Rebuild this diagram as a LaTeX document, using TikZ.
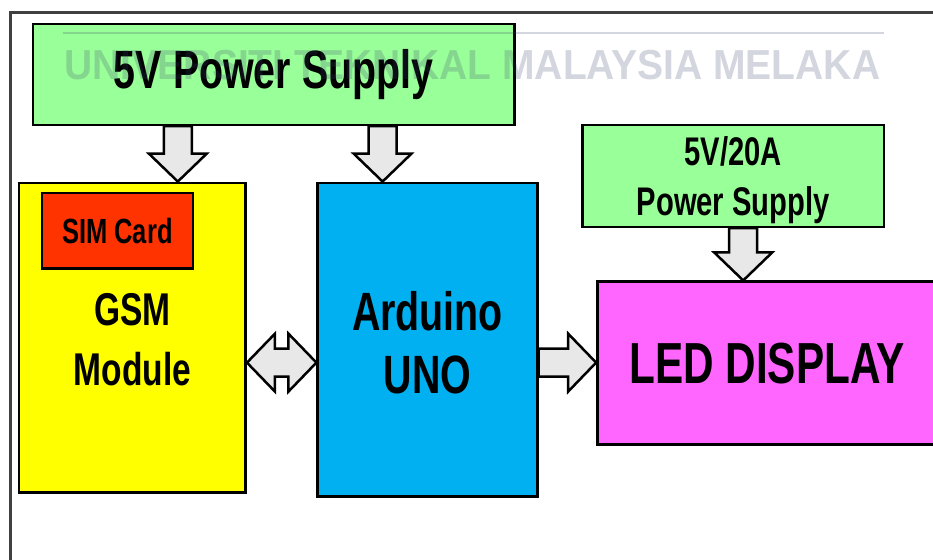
\documentclass[tikz,border=0pt]{standalone}
\usepackage{fontspec}
\setmainfont{Liberation Sans}
\newfontfamily\blockfont{Liberation Sans}[FakeStretch=0.73]
\newfontfamily\wmfont{Liberation Sans}[FakeStretch=0.93]
\usetikzlibrary{calc,positioning}
\definecolor{psgreen}{HTML}{99FF99}
\definecolor{gsmyellow}{HTML}{FFFF00}
\definecolor{simred}{HTML}{FF3300}
\definecolor{unoblue}{HTML}{00B0F0}
\definecolor{ledpink}{HTML}{FF66FF}
\definecolor{arrowgray}{HTML}{E8E8E8}
\definecolor{wmgray}{RGB}{60,70,110}
\tikzset{
  blockbox/.style={
    draw,
    line width=2.5pt,
    shape=rectangle,
    inner sep=0pt,
    align=center
  },
  txt/.style 2 args={
    align=center,
    inner sep=0pt,
    font=\blockfont\bfseries\fontsize{#1pt}{#2pt}\selectfont
  },
  blk/.style={
    draw,
    line width=2.5pt,
    fill=arrowgray,
    line join=miter
  },
  wmark/.style={
    text=wmgray,
    text opacity=0.22,
    inner sep=0pt,
    font=\wmfont\bfseries\fontsize{42pt}{42pt}\selectfont
  }
}
% block arrow from #1 to #2
\newcommand{\blkarrow}[2]{%
  \path (#1) coordinate (bs) (#2) coordinate (be);
  \path ($(be)!\hl!(bs)$) coordinate (bh);
  \draw[blk] ($(bs)!\sw!90:(be)$) -- ($(bh)!\sw!-90:(bs)$) -- ($(bh)!\hw!-90:(bs)$) -- (be)
    -- ($(bh)!\hw!90:(bs)$) -- ($(bh)!\sw!90:(bs)$) -- ($(bs)!\sw!-90:(be)$) -- cycle;
}
% double block arrow between #1 and #2
\newcommand{\dblarrow}[2]{%
  \path (#1) coordinate (bs) (#2) coordinate (be);
  \path ($(bs)!\hl!(be)$) coordinate (bh1) ($(be)!\hl!(bs)$) coordinate (bh2);
  \draw[blk] (bs) -- ($(bh1)!\hw!90:(be)$) -- ($(bh1)!\sw!90:(be)$) -- ($(bh2)!\sw!-90:(bs)$)
    -- ($(bh2)!\hw!-90:(bs)$) -- (be) -- ($(bh2)!\hw!90:(bs)$) -- ($(bh2)!\sw!90:(bs)$)
    -- ($(bh1)!\sw!-90:(be)$) -- ($(bh1)!\hw!-90:(be)$) -- cycle;
}

\begin{document}
\begin{tikzpicture}[x=1pt,y=-1pt]
    \def\sw{14pt}
    \def\hw{29pt}
    \def\hl{28pt}
    \fill[white] (0,0) rectangle (934,559.6);
    \begin{scope}
    \clip (0,0) rectangle (934,559.6);
    \draw[line width=3pt, black!75] (11,562) -- (11,13) -- (936,13);
    % blocks
    \node[blockbox, fill=psgreen, minimum width=482pt, minimum height=101pt, txt={54}{60}] (ps) at (274,74.5) {5V Power Supply};
    \node[blockbox, fill=gsmyellow, minimum width=227pt, minimum height=310pt] (gsm) at (132.5,338) {};
    \node[blockbox, fill=simred, minimum width=151pt, minimum height=76pt, txt={35}{40}] (sim) at (117.5,231) {SIM Card};
    \node[txt={46}{60}] (gsmtxt) at (132.5,340) {GSM\\Module};
    \node[blockbox, fill=unoblue, minimum width=220pt, minimum height=314pt] (ard) at (428,340) {};
    \node[txt={54}{63}] (ardtxt) at (428,343) {Arduino\\UNO};
    \node[blockbox, fill=psgreen, minimum width=302pt, minimum height=102pt] (ps20) at (734,176) {};
    \node[txt={40}{50}] (ps20txt) at (734,180) {5V/20A\\Power Supply};
    \node[blockbox, fill=ledpink, minimum width=340pt, minimum height=163pt, txt={58}{66}] (led) at (768,363.5) {LED DISPLAY};
    % arrows
    \blkarrow{178,0 |- ps.south}{178,0 |- gsm.north}
    \blkarrow{383,0 |- ps.south}{383,0 |- ard.north}
    \blkarrow{744,0 |- ps20.south}{744,0 |- led.north}
    \dblarrow{gsm.east |- 0,363}{ard.west |- 0,363}
    \blkarrow{ard.east |- 0,363}{led.west |- 0,363}
    % watermark
    \draw[wmgray, opacity=0.22, line width=1.5pt] (63,33) -- (885,33);
    \node[wmark] (wm) at (473,65) {UNIVERSITI TEKNIKAL MALAYSIA MELAKA};
    \end{scope}
\end{tikzpicture}
\end{document}
